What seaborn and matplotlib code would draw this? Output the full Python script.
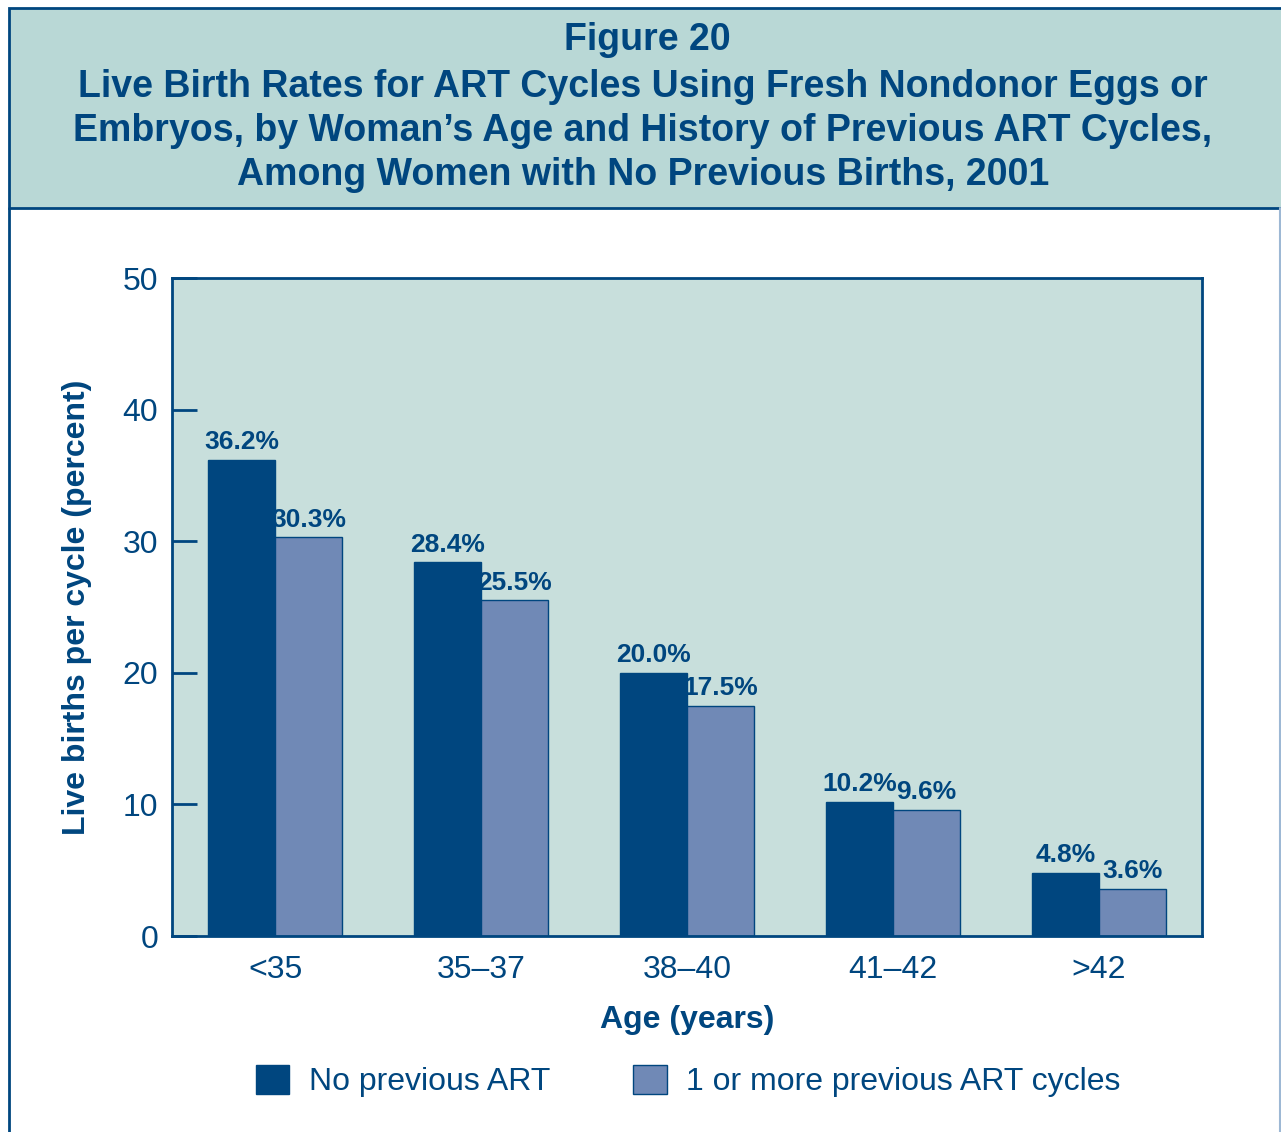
import pandas as pd
import numpy as np
import matplotlib.pyplot as plt
import seaborn as sns
from matplotlib.patches import Rectangle

# --- Data ---
ages = ["<35", "35\u201337", "38\u201340", "41\u201342", ">42"]
no_prev = [36.2, 28.4, 20.0, 10.2, 4.8]
one_or_more = [30.3, 25.5, 17.5, 9.6, 3.6]
groups = ["No previous ART", "1 or more previous ART cycles"]

df = pd.DataFrame({
    "Age": ages * 2,
    "Rate": no_prev + one_or_more,
    "Group": [groups[0]] * len(ages) + [groups[1]] * len(ages),
})

navy = "#00467f"
light = "#7089b6"
header_bg = "#b9d8d6"
plot_bg = "#c8dfdc"

sns.set_style("white")
plt.rcParams['font.family'] = ['Liberation Sans', 'DejaVu Sans']

fig = plt.figure(figsize=(12.81, 11.32), dpi=100)

# header box and frame
fig.patches.append(Rectangle((9 / 1281, 1 - 208 / 1132), 1.0, 200 / 1132,
                             transform=fig.transFigure, facecolor=header_bg,
                             edgecolor=navy, linewidth=2, zorder=0))
fig.add_artist(plt.Line2D([9 / 1281, 9 / 1281], [0, 1 - 208 / 1132],
                          transform=fig.transFigure, color=navy, linewidth=2))
fig.add_artist(plt.Line2D([1279.5 / 1281, 1279.5 / 1281], [0, 1 - 208 / 1132],
                          transform=fig.transFigure, color="#9db8d4", linewidth=1.5))

fig.text(0.505, 1 - 40 / 1132, "Figure 20", ha="center", va="center",
         fontsize=27, fontweight="bold", color=navy)
title = ("Live Birth Rates for ART Cycles Using Fresh Nondonor Eggs or\n"
         "Embryos, by Woman\u2019s Age and History of Previous ART Cycles,\n"
         "Among Women with No Previous Births, 2001")
fig.text(0.502, 1 - 131 / 1132, title, ha="center", va="center",
         fontsize=27, fontweight="bold", color=navy, linespacing=1.29)

ax = fig.add_axes([172 / 1281, 1 - 936 / 1132, 1030 / 1281, 658 / 1132])
sns.barplot(data=df, x="Age", y="Rate", hue="Group", palette=[navy, light],
            saturation=1, width=0.65, edgecolor=navy, linewidth=1, ax=ax, legend=True)

ax.set_facecolor(plot_bg)
ax.set_ylim(0, 50)
ax.set_xlim(-0.5, 4.5)
ax.set_yticks([0, 10, 20, 30, 40, 50])
for s in ax.spines.values():
    s.set_color(navy)
    s.set_linewidth(2)

ax.tick_params(axis="y", left=True, direction="in", length=18, width=2, color=navy,
               labelsize=23, labelcolor=navy, pad=10)
ax.tick_params(axis="x", bottom=False, length=0, labelsize=23, labelcolor=navy, pad=14)

for cont in ax.containers:
    ax.bar_label(cont, fmt="%.1f%%", padding=4, fontsize=19,
                 fontweight="bold", color=navy)

ax.set_xlabel("Age (years)", fontsize=23, fontweight="bold", color=navy, labelpad=14)
ax.set_ylabel("Live births per cycle (percent)", fontsize=23, fontweight="bold",
              color=navy, labelpad=22)

handles, labels = ax.get_legend_handles_labels()
ax.legend_.remove()
fig.legend(handles, labels, loc="center", bbox_to_anchor=(688 / 1281, 1 - 1081 / 1132),
           ncol=2, frameon=False, fontsize=23, labelcolor=navy,
           handlelength=1.05, handleheight=1.05, handletextpad=0.6,
           columnspacing=2.6)

fig.savefig("out.png", dpi=100)
